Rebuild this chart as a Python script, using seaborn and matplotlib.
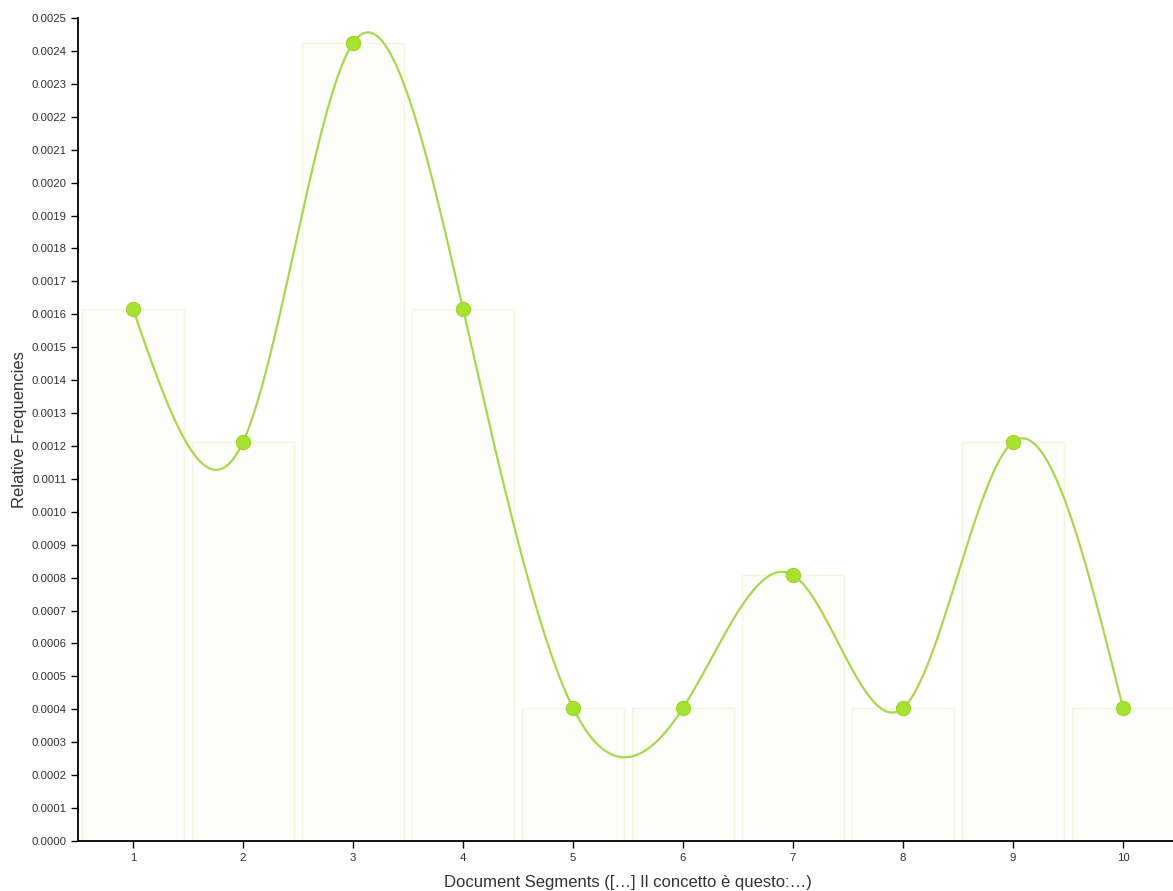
import numpy as np
import pandas as pd
import matplotlib
matplotlib.use("Agg")
import matplotlib.pyplot as plt
import seaborn as sns

segments = [1, 2, 3, 4, 5, 6, 7, 8, 9, 10]
frequencies = [0.001616, 0.001212, 0.002424, 0.001616, 0.000404,
               0.000404, 0.000808, 0.000404, 0.001212, 0.000404]
x_label = "Document Segments ([…] Il concetto è questo:…)"
y_label = "Relative Frequencies"

sns.set_theme(style="ticks")
plt.rcParams['font.family'] = ['Liberation Sans', 'DejaVu Sans']

W, H = 1173, 891
fig = plt.figure(figsize=(W / 100, H / 100), dpi=100)
left, bottom, top = 78, 841, 18
ax = fig.add_axes([left / W, 1 - bottom / H, 1100 / W, (bottom - top) / H])

df = pd.DataFrame({"seg": segments, "freq": frequencies})

# bars
sns.barplot(data=df, x="seg", y="freq", native_scale=True, width=0.92,
            color="#fdfdf9", edgecolor="#f3f7e2", linewidth=1.0,
            saturation=1, ax=ax, zorder=1)

# natural cubic spline through points (curve rendering)
xv = np.array(segments, dtype=float)
yv = np.array(frequencies, dtype=float)
n = len(xv)
h = np.diff(xv)
A = np.zeros((n, n))
b = np.zeros(n)
A[0, 0] = 1
A[-1, -1] = 1
for i in range(1, n - 1):
    A[i, i - 1] = h[i - 1]
    A[i, i] = 2 * (h[i - 1] + h[i])
    A[i, i + 1] = h[i]
    b[i] = 6 * ((yv[i + 1] - yv[i]) / h[i] - (yv[i] - yv[i - 1]) / h[i - 1])
M = np.linalg.solve(A, b)
xs, ys = [], []
for i in range(n - 1):
    t = np.linspace(0, 1, 60)
    xx = xv[i] + t * h[i]
    a_ = xv[i + 1] - xx
    b_ = xx - xv[i]
    yy = (M[i] * a_**3 + M[i + 1] * b_**3) / (6 * h[i]) \
        + (yv[i] / h[i] - M[i] * h[i] / 6) * a_ \
        + (yv[i + 1] / h[i] - M[i + 1] * h[i] / 6) * b_
    xs.extend(xx)
    ys.extend(yy)
sns.lineplot(x=xs, y=ys, color="#a8d84e", linewidth=1.6, ax=ax, zorder=3,
             sort=False)
sns.scatterplot(data=df, x="seg", y="freq", color="#a6e22e", s=105,
                edgecolor="#9ad62a", linewidth=0.8, ax=ax, zorder=4)

ax.set_xlim(0.5, 10.5)
ax.set_ylim(0, 0.0025)
ax.set_xticks(segments)
ax.set_xticklabels([str(s) for s in segments])
ax.set_yticks(np.arange(0, 0.00251, 0.0001))
ax.set_yticklabels([f"{v:.4f}" for v in np.arange(0, 0.00251, 0.0001)])
ax.tick_params(axis="both", labelsize=8.2, colors="#333333", length=5,
               width=1, direction="out")
ax.tick_params(axis="both", color="black")
for s in ["top", "right"]:
    ax.spines[s].set_visible(False)
for s in ["left", "bottom"]:
    ax.spines[s].set_color("black")
    ax.spines[s].set_linewidth(1.3)
ax.set_xlabel(x_label, fontsize=12, color="#333333", labelpad=9)
ax.set_ylabel(y_label, fontsize=12, color="#333333", labelpad=3)
ax.grid(False)

fig.savefig("out.png", dpi=100)
